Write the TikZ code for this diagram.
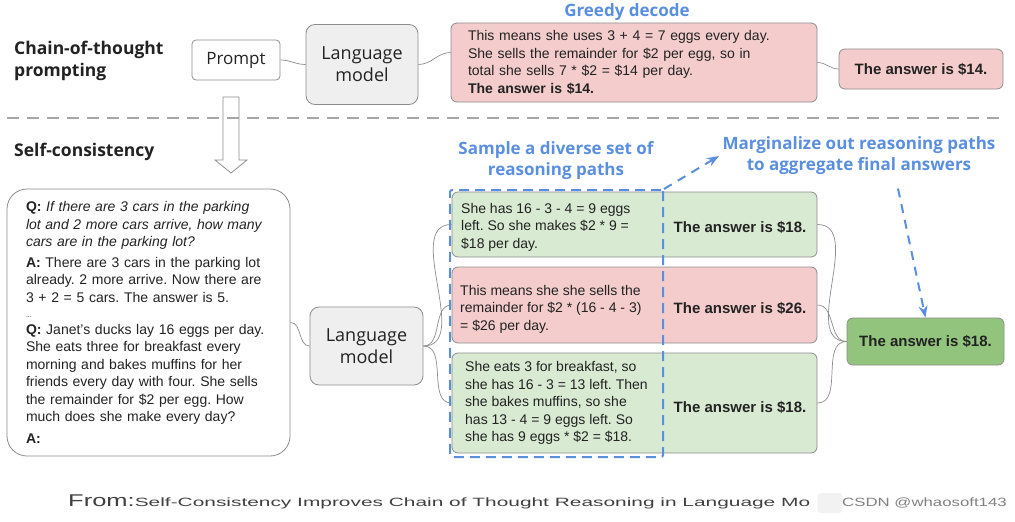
\documentclass[tikz,border=0pt]{standalone}
\usepackage{fontspec}
\setmainfont{Liberation Sans}
\newfontfamily\headfont{Open Sans}
\usepackage{graphicx}
\usetikzlibrary{positioning,arrows.meta,fit}

\definecolor{pathred}{HTML}{F4CCCC}
\definecolor{pathgreen}{HTML}{D9EAD3}
\definecolor{finalgreen}{HTML}{93C47D}
\definecolor{lmgray}{HTML}{EFEFEF}
\definecolor{edgegray}{HTML}{8C8C8C}
\definecolor{hintblue}{HTML}{5A8FE0}
\definecolor{textdark}{HTML}{222222}

\newcommand\pathfont{\fontsize{14}{17.5}\selectfont}
\newcommand\answerfont{\fontsize{15}{18}\selectfont\bfseries}
\frenchspacing

\begin{document}
\begin{tikzpicture}[
    x=1pt, y=-1pt,
    >=Stealth,
    every node/.style={text=textdark},
    box/.style={draw=edgegray, line width=0.8pt, rounded corners=6pt},
    lmbox/.style={box, fill=lmgray, rounded corners=9pt, minimum width=112pt, minimum height=80pt, align=center, font=\headfont\fontsize{18}{22}\selectfont},
    pathbox/.style={box, minimum width=365pt},
    reason/.style={anchor=west, align=left, inner sep=0pt, font=\pathfont},
    answer/.style={inner sep=0pt, font=\answerfont},
    link/.style={draw=edgegray, line width=0.7pt},
    sectionlabel/.style={anchor=west, align=left, inner sep=0pt, font=\headfont\bfseries\fontsize{17.5}{22}\selectfont},
    hint/.style={align=center, text=hintblue, font=\headfont\bfseries\fontsize{17}{21}\selectfont},
    hintflow/.style={->, draw=hintblue, line width=2pt, dash pattern=on 9pt off 7pt},
    sepline/.style={draw=gray!70, line width=1.5pt, dash pattern=on 12pt off 8pt}
]
\useasboundingbox (0,0) rectangle (1015,522);

% chain-of-thought prompting
\node[sectionlabel] (cotlabel) at (14,61) {Chain-of-thought\\prompting};
\node[box, rounded corners=4pt, minimum width=88pt, minimum height=40pt, font=\headfont\fontsize{17}{20}\selectfont] (prompt) at (236,60) {Prompt};
\node[lmbox] (lmtop) at (362,64.5) {Language\\model};
\node[hint] (greedylabel) at (627,12) {Greedy decode};
\node[box, fill=pathred, text width=332pt, inner xsep=17pt, minimum height=79pt, align=left, font=\pathfont] (greedy) at (634,62.5)
  {This means she uses 3 + 4 = 7 eggs every day.\\
   She sells the remainder for \$2 per egg, so in\\
   total she sells 7 * \$2 = \$14 per day.\\
   \textbf{The answer is \$14.}};
\node[box, fill=pathred, minimum width=164pt, minimum height=40pt, font=\answerfont] (ans14) at (921,69) {The answer is \$14.};

\draw[link] (prompt.east) to[out=0, in=180] (lmtop.west);
\draw[link] (lmtop.east) to[out=0, in=180] ([yshift=10pt]greedy.west);
\draw[link] (greedy.east) to[out=0, in=180] (ans14.west);

\draw[sepline] (7,118) -- (1003,118);
\draw[edgegray, line width=0.8pt] (223,97) -- (239,97) -- (239,160) -- (247,160) -- (231,173) -- (215,160) -- (223,160) -- cycle;

% self-consistency
\node[sectionlabel] (sclabel) at (14,152) {Self-consistency};
\node[box, rounded corners=20pt, text width=245pt, inner xsep=19pt, minimum height=267pt, align=left, font=\pathfont] (question) at (148.5,322.5)
  {\textbf{Q:} \textit{If there are 3 cars in the parking}\\
   \textit{lot and 2 more cars arrive, how many}\\
   \textit{cars are in the parking lot?}\\[3pt]
   \textbf{A:} There are 3 cars in the parking lot\\
   already. 2 more arrive. Now there are\\
   3 + 2 = 5 cars. The answer is 5.\\[-2pt]
   {\fontsize{7}{9}\selectfont ...}\\[-1pt]
   \textbf{Q:} Janet's ducks lay 16 eggs per day.\\
   She eats three for breakfast every\\
   morning and bakes muffins for her\\
   friends every day with four. She sells\\
   the remainder for \$2 per egg. How\\
   much does she make every day?\\[4pt]
   \textbf{A:}};
\node[lmbox, minimum width=113pt, minimum height=78pt] (lmbot) at (366.5,346) {Language\\model};
\draw[link] (question.east) to[out=0, in=180] (lmbot.west);

\node[pathbox, fill=pathgreen, minimum height=65pt] (path1) at (634.5,224.5) {};
\node[pathbox, fill=pathred, minimum height=76pt] (path2) at (634.5,305) {};
\node[pathbox, fill=pathgreen, minimum height=100pt] (path3) at (634.5,403) {};

\node[reason] (why1) at (461,227) {She has 16 - 3 - 4 = 9 eggs\\left. So she makes \$2 * 9 =\\\$18 per day.};
\node[reason] (why2) at (460,309) {This means she she sells the\\remainder for \$2 * (16 - 4 - 3)\\= \$26 per day.};
\node[reason] (why3) at (465,403) {She eats 3 for breakfast, so\\she has 16 - 3 = 13 left. Then\\she bakes muffins, so she\\has 13 - 4 = 9 eggs left. So\\she has 9 eggs * \$2 = \$18.};

\node[answer] (ans1) at (740,227) {The answer is \$18.};
\node[answer] (ans2) at (740,308) {The answer is \$26.};
\node[answer] (ans3) at (740,407) {The answer is \$18.};

\node[box, fill=finalgreen, minimum width=157pt, minimum height=47pt, font=\answerfont] (final) at (925.5,341.5) {The answer is \$18.};

\foreach \p in {path1,path2,path3} {
  \draw[link] (lmbot.east) to[out=0, in=180] (\p.west);
  \draw[link] (\p.east) to[out=0, in=180] (final.west);
}

\node[draw=hintblue, line width=2pt, dash pattern=on 10pt off 6pt, rounded corners=2pt, inner sep=0pt, fit={(450,190) (663,457)}] (sampled) {};
\node[hint] (samplelabel) at (556,161) {Sample a diverse set of\\reasoning paths};
\node[hint] (marg) at (859,156) {Marginalize out reasoning paths\\to aggregate final answers};
\draw[hintflow] (sampled.north east) -- (marg.west);
\draw[hintflow] ([xshift=39pt, yshift=-10pt]marg.south) -- (final.north);

% source line
\node[anchor=west, inner sep=0pt, text=black!75] (caption) at (68,502)
  {\scalebox{1.5}[1]{\fontsize{17}{20}\selectfont From:}\scalebox{1.74}[1]{\fontsize{12}{14}\selectfont Self-Consistency Improves Chain of Thought Reasoning in Language Mo}};
\node[fill=gray!10, rounded corners=3pt, minimum width=25pt, minimum height=20pt, inner sep=0pt] (blur) at (830,503) {};
\node[anchor=west, inner sep=0pt, text=gray] (mark) at (842,503) {\scalebox{1.4}[1]{\fontsize{12}{14}\selectfont CSDN @whaosoft143}};

\end{tikzpicture}
\end{document}
